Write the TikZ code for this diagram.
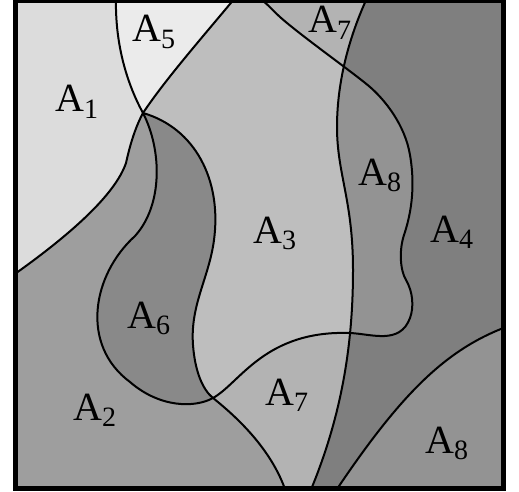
\documentclass[tikz,border=0pt]{standalone}
\usepackage{fontspec}
\setmainfont{Liberation Serif}
\definecolor{cAone}{HTML}{DCDCDC}
\definecolor{cAtwo}{HTML}{9E9E9E}
\definecolor{cAthree}{HTML}{BEBEBE}
\definecolor{cAfour}{HTML}{7F7F7F}
\definecolor{cAfive}{HTML}{EBEBEB}
\definecolor{cAsix}{HTML}{898989}
\definecolor{cAseven}{HTML}{B3B3B3}
\definecolor{cAeight}{HTML}{939393}
\newcommand\regionlabel[1]{A\raisebox{-6.5pt}{\fontsize{28}{30}\selectfont #1}}
\begin{document}
\begin{tikzpicture}[x=1pt,y=-1pt,
  bnd/.style={line width=2pt, line join=round},
  lbl/.style={anchor=base west, inner sep=0pt, font=\fontsize{40}{44}\selectfont}]
\useasboundingbox (0,0) rectangle (519,492);
\begin{scope}
\clip (15.5,0.5) rectangle (503.5,488.5);
\fill[cAtwo] (0,-10) rectangle (520,500);
% A7: right of the A6-right / A2|A7 line
\fill[cAseven] (143,113) .. controls (195,128) and (222,180) .. (214,240)
  .. controls (209,278) and (190,305) .. (193,345)
  .. controls (195,372) and (203,390) .. (213,398)
  .. controls (238,418) and (272,450) .. (286,492)
  -- (520,500) -- (520,-10) -- (235,-10) -- (235,-2)
  .. controls (200,40) and (165,80) .. (143,113) -- cycle;
% A3: inside curve D
\fill[cAthree] (143,113) .. controls (162,150) and (163,205) .. (135,236)
  .. controls (92,275) and (80,345) .. (130,382)
  .. controls (160,408) and (195,408) .. (213,398)
  .. controls (240,383) and (265,330) .. (350,333)
  .. controls (372,334) and (400,345) .. (410,318)
  .. controls (414,307) and (413,292) .. (406,280)
  .. controls (400,270) and (399,250) .. (404,235)
  .. controls (410,217) and (416,190) .. (410,155)
  .. controls (405,125) and (385,100) .. (370,87)
  .. controls (355,74) and (300,35) .. (280,17)
  .. controls (272,10) and (265,0) .. (255,-3)
  -- (255,-10) -- (235,-10) -- (235,-2)
  .. controls (200,40) and (165,80) .. (143,113) -- cycle;
% A6
\fill[cAsix] (143,113) .. controls (162,150) and (163,205) .. (135,236)
  .. controls (92,275) and (80,345) .. (130,382)
  .. controls (160,408) and (195,408) .. (213,398)
  .. controls (203,390) and (195,372) .. (193,345)
  .. controls (190,305) and (209,278) .. (214,240)
  .. controls (222,180) and (195,128) .. (143,113) -- cycle;
% right of V
\begin{scope}
\clip (367,-2) .. controls (350,35) and (337,80) .. (337,127)
  .. controls (337,174) and (353,200) .. (353,270)
  .. controls (353,350) and (340,420) .. (310,492)
  -- (520,500) -- (520,-10) -- cycle;
\fill[cAfour] (0,-10) rectangle (520,500);
\fill[cAeight] (143,113) .. controls (162,150) and (163,205) .. (135,236)
  .. controls (92,275) and (80,345) .. (130,382)
  .. controls (160,408) and (195,408) .. (213,398)
  .. controls (240,383) and (265,330) .. (350,333)
  .. controls (372,334) and (400,345) .. (410,318)
  .. controls (414,307) and (413,292) .. (406,280)
  .. controls (400,270) and (399,250) .. (404,235)
  .. controls (410,217) and (416,190) .. (410,155)
  .. controls (405,125) and (385,100) .. (370,87)
  .. controls (355,74) and (300,35) .. (280,17)
  .. controls (272,10) and (265,0) .. (255,-3)
  -- (255,-10) -- (143,-10) -- cycle;
\fill[cAeight] (506,327) .. controls (445,350) and (400,395) .. (335,492)
  -- (520,500) -- (520,327) -- cycle;
\end{scope}
% A1
\fill[cAone] (0,-10) -- (116,-10) -- (116,-2)
  .. controls (115,40) and (125,80) .. (143,113)
  .. controls (135,128) and (130,145) .. (126,163)
  .. controls (115,195) and (70,235) .. (12,276)
  -- (0,276) -- cycle;
% A5
\fill[cAfive] (116,-2) .. controls (115,40) and (125,80) .. (143,113)
  .. controls (165,80) and (200,40) .. (235,-2)
  -- (235,-10) -- (116,-10) -- cycle;
% boundary lines
\draw[bnd] (116,-2) .. controls (115,40) and (125,80) .. (143,113);
\draw[bnd] (143,113) .. controls (165,80) and (200,40) .. (235,-2);
\draw[bnd] (143,113) .. controls (135,128) and (130,145) .. (126,163)
  .. controls (115,195) and (70,235) .. (12,276);
\draw[bnd] (143,113) .. controls (162,150) and (163,205) .. (135,236)
  .. controls (92,275) and (80,345) .. (130,382)
  .. controls (160,408) and (195,408) .. (213,398)
  .. controls (240,383) and (265,330) .. (350,333)
  .. controls (372,334) and (400,345) .. (410,318)
  .. controls (414,307) and (413,292) .. (406,280)
  .. controls (400,270) and (399,250) .. (404,235)
  .. controls (410,217) and (416,190) .. (410,155)
  .. controls (405,125) and (385,100) .. (370,87)
  .. controls (355,74) and (300,35) .. (280,17)
  .. controls (272,10) and (265,0) .. (255,-3);
\draw[bnd] (143,113) .. controls (195,128) and (222,180) .. (214,240)
  .. controls (209,278) and (190,305) .. (193,345)
  .. controls (195,372) and (203,390) .. (213,398)
  .. controls (238,418) and (272,450) .. (286,492);
\draw[bnd] (367,-2) .. controls (350,35) and (337,80) .. (337,127)
  .. controls (337,174) and (353,200) .. (353,270)
  .. controls (353,350) and (340,420) .. (310,492);
\draw[bnd] (506,327) .. controls (445,350) and (400,395) .. (335,492);
\end{scope}
\draw[line width=5pt] (15.5,0.5) rectangle (503.5,488.5);
% labels
\node[lbl] (l1) at (55,112) {\regionlabel{1}};
\node[lbl] (l5) at (132,42) {\regionlabel{5}};
\node[lbl] (l7a) at (308,33) {\regionlabel{7}};
\node[lbl] (l8a) at (358,185) {\regionlabel{8}};
\node[lbl] (l4) at (430,242) {\regionlabel{4}};
\node[lbl] (l3) at (253,243) {\regionlabel{3}};
\node[lbl] (l6) at (127,328) {\regionlabel{6}};
\node[lbl] (l2) at (73,420) {\regionlabel{2}};
\node[lbl] (l7b) at (265,405) {\regionlabel{7}};
\node[lbl] (l8b) at (425,453) {\regionlabel{8}};
\end{tikzpicture}
\end{document}
